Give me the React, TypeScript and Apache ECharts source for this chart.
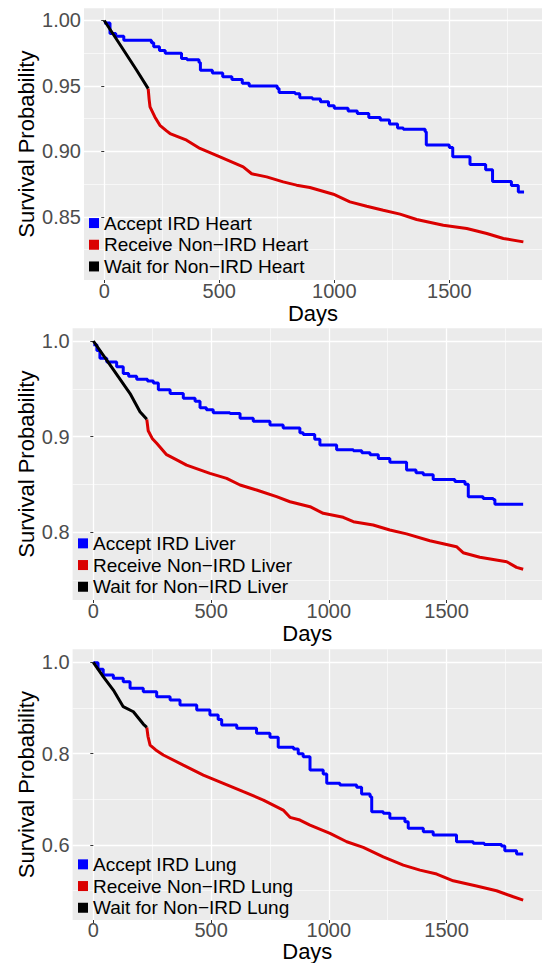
import React, { useEffect, useRef } from "react";
import * as echarts from "echarts";

// ---------- data (days, survival probability) ----------
const heartAccept: [number, number][] = [
  [0, 0.998], [25, 0.99], [50, 0.988], [85, 0.985], [205, 0.983], [215, 0.98], [240, 0.977],
  [265, 0.975], [336, 0.971], [360, 0.97], [412, 0.968], [418, 0.962], [470, 0.96], [515, 0.957],
  [555, 0.955], [600, 0.952], [630, 0.95], [752, 0.948], [760, 0.945], [830, 0.944], [850, 0.941],
  [905, 0.94], [940, 0.938], [975, 0.935], [1000, 0.933], [1060, 0.931], [1100, 0.929], [1150, 0.926],
  [1200, 0.924], [1240, 0.921], [1275, 0.918], [1300, 0.917], [1395, 0.915], [1400, 0.905],
  [1500, 0.903], [1515, 0.896], [1590, 0.89], [1658, 0.886], [1688, 0.877], [1770, 0.874],
  [1800, 0.869], [1825, 0.869],
];
const heartReceive: [number, number][] = [
  [191, 0.948], [195, 0.94], [199, 0.934], [220, 0.9264], [242, 0.92], [271, 0.9157], [286, 0.9137],
  [358, 0.9086], [416, 0.9023], [503, 0.8959], [604, 0.8882], [641, 0.883], [706, 0.8806],
  [778, 0.8768], [836, 0.8743], [894, 0.8725], [996, 0.8674], [1068, 0.8615], [1141, 0.8582],
  [1213, 0.8552], [1286, 0.8522], [1358, 0.8481], [1474, 0.8437], [1576, 0.8412], [1663, 0.8374],
  [1735, 0.8336], [1822, 0.831],
];
const heartWait: [number, number][] = [
  [0, 1.0], [69, 0.9815], [141, 0.962], [191, 0.948],
];

const liverAccept: [number, number][] = [
  [0, 0.996], [15, 0.99], [28, 0.982], [57, 0.978], [99, 0.973], [127, 0.966], [150, 0.963],
  [184, 0.96], [230, 0.958], [255, 0.956], [276, 0.949], [326, 0.945], [382, 0.94], [432, 0.937],
  [453, 0.93], [480, 0.928], [509, 0.925], [580, 0.924], [623, 0.919], [679, 0.916], [750, 0.912],
  [806, 0.909], [877, 0.904], [891, 0.902], [940, 0.897], [962, 0.891], [1033, 0.886], [1104, 0.885],
  [1140, 0.883], [1175, 0.881], [1210, 0.877], [1259, 0.873], [1330, 0.865], [1370, 0.862],
  [1401, 0.86], [1443, 0.855], [1535, 0.853], [1578, 0.85], [1592, 0.837], [1655, 0.835],
  [1698, 0.834], [1705, 0.829], [1825, 0.829],
];
const liverReceive: [number, number][] = [
  [227, 0.918], [230, 0.912], [233, 0.906], [250, 0.898], [269, 0.893], [311, 0.881], [350, 0.876],
  [396, 0.87], [495, 0.8614], [566, 0.8562], [623, 0.8492], [693, 0.844], [778, 0.837],
  [835, 0.8317], [920, 0.8265], [976, 0.8196], [1061, 0.8154], [1104, 0.8108], [1188, 0.8073],
  [1259, 0.8021], [1330, 0.798], [1429, 0.7909], [1542, 0.7846], [1570, 0.7783], [1641, 0.7735],
  [1755, 0.7689], [1797, 0.763], [1825, 0.761],
];
const liverWait: [number, number][] = [
  [0, 1.0], [71, 0.975], [156, 0.945], [198, 0.926], [227, 0.918],
];

const lungAccept: [number, number][] = [
  [0, 0.999], [20, 0.985], [42, 0.972], [85, 0.965], [127, 0.9575], [156, 0.943], [212, 0.9356],
  [269, 0.9247], [326, 0.9174], [368, 0.9065], [439, 0.8955], [495, 0.8846], [530, 0.875],
  [545, 0.8627], [609, 0.8554], [693, 0.8445], [750, 0.8357], [785, 0.8138], [850, 0.81],
  [870, 0.8], [891, 0.793], [920, 0.764], [976, 0.7553], [991, 0.735], [1047, 0.7313],
  [1118, 0.7262], [1139, 0.7115], [1175, 0.7056], [1182, 0.6728], [1231, 0.6692], [1259, 0.6583],
  [1323, 0.651], [1337, 0.6364], [1401, 0.629], [1443, 0.6217], [1542, 0.607], [1613, 0.6035],
  [1660, 0.601], [1733, 0.5976], [1747, 0.5873], [1797, 0.5801], [1825, 0.58],
];
const lungReceive: [number, number][] = [
  [227, 0.8576], [232, 0.838], [241, 0.8188], [265, 0.808], [297, 0.797], [382, 0.775],
  [467, 0.7531], [552, 0.735], [637, 0.7166], [722, 0.6984], [806, 0.6765], [835, 0.6605],
  [877, 0.6546], [920, 0.6436], [1005, 0.6254], [1076, 0.607], [1146, 0.5947], [1231, 0.5741],
  [1316, 0.556], [1387, 0.545], [1458, 0.5363], [1528, 0.5216], [1627, 0.51], [1712, 0.4997],
  [1783, 0.4866], [1825, 0.4793],
];
const lungWait: [number, number][] = [
  [0, 1.0], [42, 0.9685], [85, 0.9393], [127, 0.9028], [170, 0.8918], [212, 0.8648], [227, 0.8576],
];

const organs = ["Heart", "Liver", "Lung"];
const xMajorTicks = [0, 500, 1000, 1500];
const xMinorTicks = [250, 750, 1250, 1750];
const yMajorTicks = [
  [0.85, 0.9, 0.95, 1.0],
  [0.8, 0.9, 1.0],
  [0.6, 0.8, 1.0],
];
const yMinorTicks = [
  [0.825, 0.875, 0.925, 0.975],
  [0.75, 0.85, 0.95],
  [0.5, 0.7, 0.9],
];
const yTickDecimals = [2, 1, 1];
const xTitle = "Days";
const yTitle = "Survival Probability";

// ---------- layout ----------
const layout = [
  { left: 84, top: 8.3, height: 271.7, xMin: -88, xMax: 1903, yMin: 0.8019, yMax: 1.0093, legendLeft: 89, legendTop: 212.2, yNameGap: 47, xNameGap: 23, xLabelMargin: 3 },
  { left: 72.6, top: 328.3, height: 271.7, xMin: -88, xMax: 1905, yMin: 0.7288, yMax: 1.0133, legendLeft: 78, legendTop: 532.5, yNameGap: 35.6, xNameGap: 23, xLabelMargin: 3 },
  { left: 72.6, top: 649.3, height: 270.7, xMin: -88, xMax: 1905, yMin: 0.4357, yMax: 1.0285, legendLeft: 78, legendTop: 853.5, yNameGap: 35.6, xNameGap: 21, xLabelMargin: 1.5 },
];

const BLUE = "#0000FF";
const RED = "#DA0000";
const BLACK = "#000000";
const FONT = "'Liberation Sans', Arial, Helvetica, sans-serif";

const seriesData = [
  [heartAccept, heartReceive, heartWait],
  [liverAccept, liverReceive, liverWait],
  [lungAccept, lungReceive, lungWait],
];

export default function App() {
  const ref = useRef<HTMLDivElement>(null);
  useEffect(() => {
    if (!ref.current) return;
    const chart = echarts.init(ref.current, undefined, { renderer: "svg" });
    const grids: any[] = [];
    const xAxes: any[] = [];
    const yAxes: any[] = [];
    const legends: any[] = [];
    const series: any[] = [];
    layout.forEach((L, i) => {
      grids.push({
        left: L.left, top: L.top, right: 0, height: L.height,
        show: true, backgroundColor: "#EBEBEB", borderWidth: 0,
        containLabel: false, outerBoundsMode: "none",
      });
      // major x axis (index 2*i)
      xAxes.push({
        type: "value", gridIndex: i, position: "bottom", min: L.xMin, max: L.xMax,
        name: xTitle, nameLocation: "middle", nameGap: L.xNameGap, nameMoveOverlap: false,
        nameTextStyle: { fontSize: 22, lineHeight: 20, color: "#000", fontFamily: FONT },
        axisLine: { show: false },
        axisTick: { show: true, length: 3, customValues: xMajorTicks, lineStyle: { color: "#333", width: 1 } },
        axisLabel: {
          fontSize: 20, lineHeight: 16, color: "#4D4D4D", fontFamily: FONT, margin: L.xLabelMargin,
          customValues: xMajorTicks,
          formatter: (v: number) => String(Math.round(v)),
        },
        splitLine: { show: true, lineStyle: { color: "#FFFFFF", width: 1.3 } },
      });
      // minor x grid (index 2*i+1)
      xAxes.push({
        type: "value", gridIndex: i, position: "top", min: L.xMin, max: L.xMax,
        axisLine: { show: false },
        axisTick: { show: false, customValues: xMinorTicks },
        axisLabel: { show: false, customValues: xMinorTicks },
        splitLine: { show: true, lineStyle: { color: "#FFFFFF", width: 0.6 } },
      });
      const dec = yTickDecimals[i];
      yAxes.push({
        type: "value", gridIndex: i, position: "left", min: L.yMin, max: L.yMax,
        name: yTitle, nameLocation: "middle", nameGap: L.yNameGap, nameMoveOverlap: false,
        nameTextStyle: { fontSize: 22, lineHeight: 22, color: "#000", fontFamily: FONT },
        axisLine: { show: false },
        axisTick: { show: true, length: 3, customValues: yMajorTicks[i], lineStyle: { color: "#333", width: 1 } },
        axisLabel: {
          fontSize: 20, lineHeight: 16, color: "#4D4D4D", fontFamily: FONT, margin: 3,
          customValues: yMajorTicks[i],
          formatter: (v: number) => v.toFixed(dec),
        },
        splitLine: { show: true, lineStyle: { color: "#FFFFFF", width: 1.3 } },
      });
      yAxes.push({
        type: "value", gridIndex: i, position: "right", min: L.yMin, max: L.yMax,
        axisLine: { show: false },
        axisTick: { show: false, customValues: yMinorTicks[i] },
        axisLabel: { show: false, customValues: yMinorTicks[i] },
        splitLine: { show: true, lineStyle: { color: "#FFFFFF", width: 0.6 } },
      });
      const organ = organs[i];
      const names = [`Accept IRD ${organ}`, `Receive Non\u2212IRD ${organ}`, `Wait for Non\u2212IRD ${organ}`];
      const colors = [BLUE, RED, BLACK];
      legends.push({
        data: names, orient: "vertical", left: L.legendLeft, top: L.legendTop,
        padding: 0, itemGap: 0, itemWidth: 10, itemHeight: 10, icon: "rect",
        selectedMode: false,
        textStyle: { fontSize: 19, color: "#000", fontFamily: FONT, lineHeight: 21.7 },
      });
      names.forEach((n, k) => {
        series.push({
          name: n, type: "line", xAxisIndex: 2 * i, yAxisIndex: 2 * i,
          data: seriesData[i][k],
          step: k === 0 ? "end" : false,
          showSymbol: false, symbol: "none", smooth: false,
          lineStyle: { color: colors[k], width: 3 },
          itemStyle: { color: colors[k] },
          z: 2 + k,
        });
      });
    });
    chart.setOption({
      animation: false,
      backgroundColor: "#FFFFFF",
      textStyle: { fontFamily: FONT },
      grid: grids, xAxis: xAxes, yAxis: yAxes, legend: legends, series,
    });
    return () => chart.dispose();
  }, []);
  return (
    <div
      ref={ref}
      style={{ position: "absolute", left: 0, top: 0, width: 542, height: 963 }}
    />
  );
}
